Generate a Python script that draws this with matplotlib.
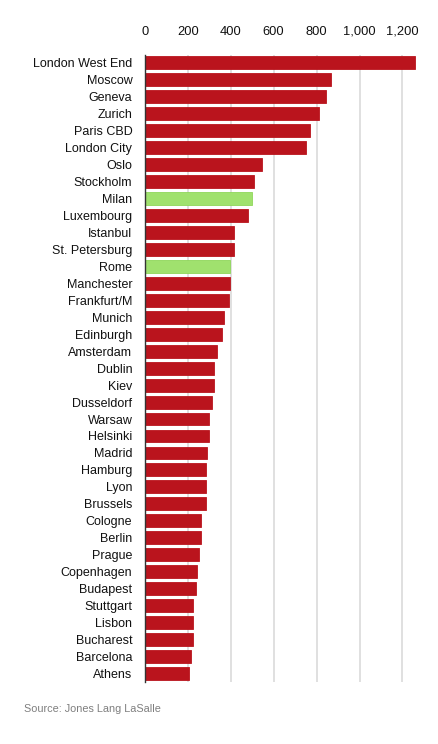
import matplotlib
matplotlib.use("Agg")
import matplotlib.pyplot as plt

cities = ["London West End", "Moscow", "Geneva", "Zurich", "Paris CBD", "London City",
          "Oslo", "Stockholm", "Milan", "Luxembourg", "Istanbul", "St. Petersburg", "Rome",
          "Manchester", "Frankfurt/M", "Munich", "Edinburgh", "Amsterdam", "Dublin", "Kiev",
          "Dusseldorf", "Warsaw", "Helsinki", "Madrid", "Hamburg", "Lyon", "Brussels",
          "Cologne", "Berlin", "Prague", "Copenhagen", "Budapest", "Stuttgart", "Lisbon",
          "Bucharest", "Barcelona", "Athens"]
values = [1258, 867, 843, 811, 769, 750, 545, 508, 499, 480, 415, 415, 396,
          396, 391, 368, 359, 336, 322, 322, 312, 298, 298, 289, 284, 284, 284,
          261, 261, 252, 242, 238, 224, 224, 224, 214, 205]
highlight = ["Milan", "Rome"]
ticks = [0, 200, 400, 600, 800, 1000, 1200]
tick_labels = ["0", "200", "400", "600", "800", "1,000", "1,200"]

RED = "#BA141D"
GREEN = "#A0E16E"

plt.rcParams['font.family'] = ['Liberation Sans', 'DejaVu Sans']

fig = plt.figure(figsize=(4.39, 7.44), dpi=100)
ax = fig.add_axes([0.330, 0.0833, 0.6235, 0.8427])

ypos = list(range(len(cities)))
colors = [GREEN if c in highlight else RED for c in cities]
edges = ["#8FD65A" if c in highlight else RED for c in cities]
ax.barh(ypos, values, height=0.76, color=colors, edgecolor=edges, linewidth=0.6, zorder=3)

ax.set_xlim(0, 1275)
ax.set_ylim(len(cities) - 0.5, -0.45)
ax.set_yticks(ypos)
ax.set_yticklabels(cities, fontsize=9, color="#111111")
ax.set_xticks(ticks)
ax.set_xticklabels(tick_labels, fontsize=9.3, color="#111111", va="baseline")
ax.xaxis.tick_top()
ax.tick_params(axis="x", length=0, pad=14.5)
ax.tick_params(axis="y", length=0, pad=9)

ax.grid(axis="x", color="#DADADA", linewidth=1.2, zorder=0)
ax.set_axisbelow(True)
for s in ["top", "right", "bottom"]:
    ax.spines[s].set_visible(False)
ax.spines["left"].set_color("#333333")
ax.spines["left"].set_linewidth(1.0)
ax.spines["left"].set_zorder(4)

fig.text(24 / 439, 1 - 709 / 744, "Source: Jones Lang LaSalle", fontsize=7.8,
         color="#7F7F7F", ha="left", va="center")

fig.savefig("out.png", dpi=100)
